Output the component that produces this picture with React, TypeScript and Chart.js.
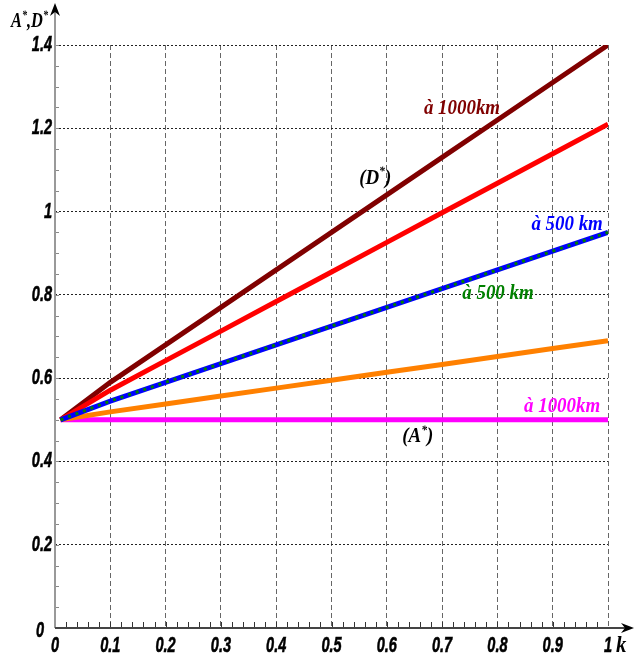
import React, { useEffect, useRef } from 'react';
import { Chart, registerables } from 'chart.js';

Chart.register(...registerables);

// ---- data ----
const kValues = [0.01, 0.1, 0.2, 0.3, 0.4, 0.5, 0.6, 0.7, 0.8, 0.9, 1.0];
const dStar1000 = [0.5, 0.59, 0.68, 0.77, 0.86, 0.95, 1.04, 1.13, 1.22, 1.31, 1.4];
const redSeries = [0.5, 0.571, 0.642, 0.713, 0.784, 0.855, 0.926, 0.997, 1.068, 1.139, 1.21];
const dStar500 = [0.5, 0.545, 0.59, 0.635, 0.68, 0.725, 0.77, 0.815, 0.86, 0.905, 0.95];
const aStar500 = [0.5, 0.545, 0.59, 0.635, 0.68, 0.725, 0.77, 0.815, 0.86, 0.905, 0.95];
const orangeSeries = [0.5, 0.519, 0.538, 0.557, 0.576, 0.595, 0.614, 0.633, 0.652, 0.671, 0.69];
const aStar1000 = [0.5, 0.5, 0.5, 0.5, 0.5, 0.5, 0.5, 0.5, 0.5, 0.5, 0.5];

const xTickLabels = ['0', '0.1', '0.2', '0.3', '0.4', '0.5', '0.6', '0.7', '0.8', '0.9', '1'];
const yTickLabels = ['0', '0.2', '0.4', '0.6', '0.8', '1', '1.2', '1.4'];

type Seg = { t: string; sup?: boolean };
const annotations: { k: number; v: number; segs: Seg[]; color: string }[] = [
  { k: 0.736, v: 1.248, segs: [{ t: 'à 1000km' }], color: '#800000' },
  { k: 0.579, v: 1.08, segs: [{ t: '(D' }, { t: '*', sup: true }, { t: ')' }], color: '#000000' },
  { k: 0.926, v: 0.968, segs: [{ t: 'à 500 km' }], color: '#0000ff' },
  { k: 0.801, v: 0.802, segs: [{ t: 'à 500 km' }], color: '#008000' },
  { k: 0.917, v: 0.531, segs: [{ t: 'à 1000km' }], color: '#ff00ff' },
  { k: 0.656, v: 0.459, segs: [{ t: '(A' }, { t: '*', sup: true }, { t: ')' }], color: '#000000' },
];

const SERIF = "'Liberation Serif', 'DejaVu Serif', serif";
const SANS = "'Liberation Sans', Arial, sans-serif";

function drawRich(
  ctx: CanvasRenderingContext2D,
  cx: number,
  cy: number,
  segs: Seg[],
  size: number,
  color: string,
  align: 'center' | 'left' = 'center',
  hscale = 1,
) {
  const fonts = segs.map((s) => `italic bold ${s.sup ? Math.round(size * 0.62) : size}px ${SERIF}`);
  let total = 0;
  const ws = segs.map((s, i) => {
    ctx.font = fonts[i];
    const w = ctx.measureText(s.t).width;
    total += w;
    return w;
  });
  ctx.save();
  ctx.translate(cx, cy);
  ctx.scale(hscale, 1);
  let x = align === 'center' ? -total / 2 : 0;
  ctx.fillStyle = color;
  ctx.textBaseline = 'middle';
  ctx.textAlign = 'left';
  segs.forEach((s, i) => {
    ctx.font = fonts[i];
    ctx.fillText(s.t, x, s.sup ? -size * 0.3 : 0);
    x += ws[i];
  });
  ctx.restore();
}

function drawNarrow(ctx: CanvasRenderingContext2D, text: string, x: number, y: number, align: 'center' | 'right') {
  ctx.save();
  ctx.translate(x, y);
  ctx.scale(0.66, 1);
  ctx.font = `italic bold 22px ${SANS}`;
  ctx.fillStyle = '#000';
  ctx.strokeStyle = '#000';
  ctx.lineWidth = 0.6;
  ctx.textAlign = align;
  ctx.textBaseline = 'middle';
  ctx.fillText(text, 0, 0);
  ctx.strokeText(text, 0, 0);
  ctx.restore();
}

const decorPlugin = {
  id: 'decor',
  afterDraw(chart: any) {
    const ctx: CanvasRenderingContext2D = chart.ctx;
    const xs = chart.scales.x;
    const ys = chart.scales.y;
    const x0 = xs.getPixelForValue(0);
    const x1 = xs.getPixelForValue(1);
    const y0 = ys.getPixelForValue(0);
    ctx.save();
    ctx.setLineDash([]);

    // minor ticks x (every 0.02, upward)
    ctx.strokeStyle = '#333';
    ctx.lineWidth = 1;
    for (let i = 1; i < 50; i++) {
      const px = Math.round(xs.getPixelForValue(i * 0.02)) + 0.5;
      ctx.beginPath();
      ctx.moveTo(px, y0);
      ctx.lineTo(px, y0 - 6);
      ctx.stroke();
    }
    // minor ticks y (every 0.05, to the right)
    ctx.strokeStyle = '#888';
    for (let i = 1; i <= 28; i++) {
      const py = Math.round(ys.getPixelForValue(i * 0.05)) + 0.5;
      ctx.beginPath();
      ctx.moveTo(x0, py);
      ctx.lineTo(x0 + 4, py);
      ctx.stroke();
    }

    // y axis line
    ctx.strokeStyle = '#999';
    ctx.lineWidth = 2;
    ctx.beginPath();
    ctx.moveTo(x0, y0);
    ctx.lineTo(x0, 10);
    ctx.stroke();
    // x axis line
    ctx.strokeStyle = '#444';
    ctx.beginPath();
    ctx.moveTo(x0, y0);
    ctx.lineTo(628, y0);
    ctx.stroke();

    // arrowheads
    ctx.fillStyle = '#000';
    ctx.beginPath();
    ctx.moveTo(x0, 3);
    ctx.lineTo(x0 - 5, 16);
    ctx.lineTo(x0, 12);
    ctx.lineTo(x0 + 5, 16);
    ctx.closePath();
    ctx.fill();
    ctx.beginPath();
    ctx.moveTo(634, y0);
    ctx.lineTo(621, y0 - 5);
    ctx.lineTo(625, y0);
    ctx.lineTo(621, y0 + 5);
    ctx.closePath();
    ctx.fill();

    // tick labels (condensed), placed from the scales' own ticks
    xs.ticks.forEach((t: any, i: number) => {
      drawNarrow(ctx, xTickLabels[i] ?? '', xs.getPixelForValue(t.value), 646, 'center');
    });
    ys.ticks.forEach((t: any, i: number) => {
      const py = ys.getPixelForValue(t.value);
      if (i === 0) drawNarrow(ctx, yTickLabels[i], x0 - 11, py + 3, 'right');
      else drawNarrow(ctx, yTickLabels[i] ?? '', x0 - 3, py, 'right');
    });

    // axis titles
    drawRich(ctx, 11, 22, [{ t: 'A' }, { t: '*', sup: true }, { t: ',D' }, { t: '*', sup: true }], 21, '#000', 'left', 0.78);
    drawRich(ctx, x1 + 8, 646, [{ t: 'k' }], 23, '#000', 'left', 0.9);

    // annotations
    annotations.forEach((a) => {
      drawRich(ctx, xs.getPixelForValue(a.k), ys.getPixelForValue(a.v), a.segs, 21, a.color, 'center', 0.9);
    });
    ctx.restore();
  },
};

export default function App() {
  const ref = useRef<HTMLCanvasElement>(null);
  useEffect(() => {
    const canvas = ref.current!;
    const mk = (vals: number[]) => kValues.map((k, i) => ({ x: k, y: vals[i] }));
    const line = (vals: number[], color: string, order: number, extra: any = {}) => ({
      data: mk(vals),
      borderColor: color,
      backgroundColor: color,
      borderWidth: 5,
      pointRadius: 0,
      fill: false,
      tension: 0,
      order,
      borderCapStyle: 'butt',
      ...extra,
    });
    const tickFont = { family: SANS, size: 20, style: 'italic' as const, weight: 'bold' as const };
    const chart = new Chart(canvas, {
      type: 'line',
      data: {
        datasets: [
          line(aStar1000, '#ff00ff', 5),
          line(orangeSeries, '#ff8000', 4),
          line(dStar500, '#0000ff', 2),
          line(aStar500, '#008000', 1, { borderWidth: 3, borderDash: [3, 5] }),
          line(redSeries, '#ff0000', 3),
          line(dStar1000, '#800000', 3),
        ] as any,
      },
      options: {
        animation: false,
        responsive: false,
        maintainAspectRatio: false,
        layout: { padding: { top: 45, right: 35, left: 0, bottom: 0 } },
        plugins: { legend: { display: false }, tooltip: { enabled: false } },
        scales: {
          x: {
            type: 'linear',
            min: 0,
            max: 1,
            afterFit: (s: any) => {
              s.height = 32;
            },
            ticks: {
              stepSize: 0.1,
              autoSkip: false,
              maxRotation: 0,
              padding: 6,
              color: 'rgba(0,0,0,0)',
              font: tickFont,
              callback: (_v: any, i: number) => xTickLabels[i] ?? '',
            },
            grid: { color: '#666', lineWidth: 1, drawTicks: false },
            border: { display: false, dash: [5, 3] },
          },
          y: {
            type: 'linear',
            min: 0,
            max: 1.4,
            afterFit: (s: any) => {
              s.width = 55;
            },
            ticks: {
              stepSize: 0.2,
              padding: 3,
              color: 'rgba(0,0,0,0)',
              font: tickFont,
              callback: (_v: any, i: number) => yTickLabels[i] ?? '',
            },
            grid: { color: '#222', lineWidth: 1, drawTicks: false },
            border: { display: false, dash: [2, 2] },
          },
        },
      } as any,
      plugins: [decorPlugin],
    });
    return () => chart.destroy();
  }, []);
  return (
    <div style={{ position: 'fixed', left: 0, top: 0, width: 643, height: 660, background: '#fff' }}>
      <canvas ref={ref} width={643} height={660} style={{ width: 643, height: 660, display: 'block' }} />
    </div>
  );
}
